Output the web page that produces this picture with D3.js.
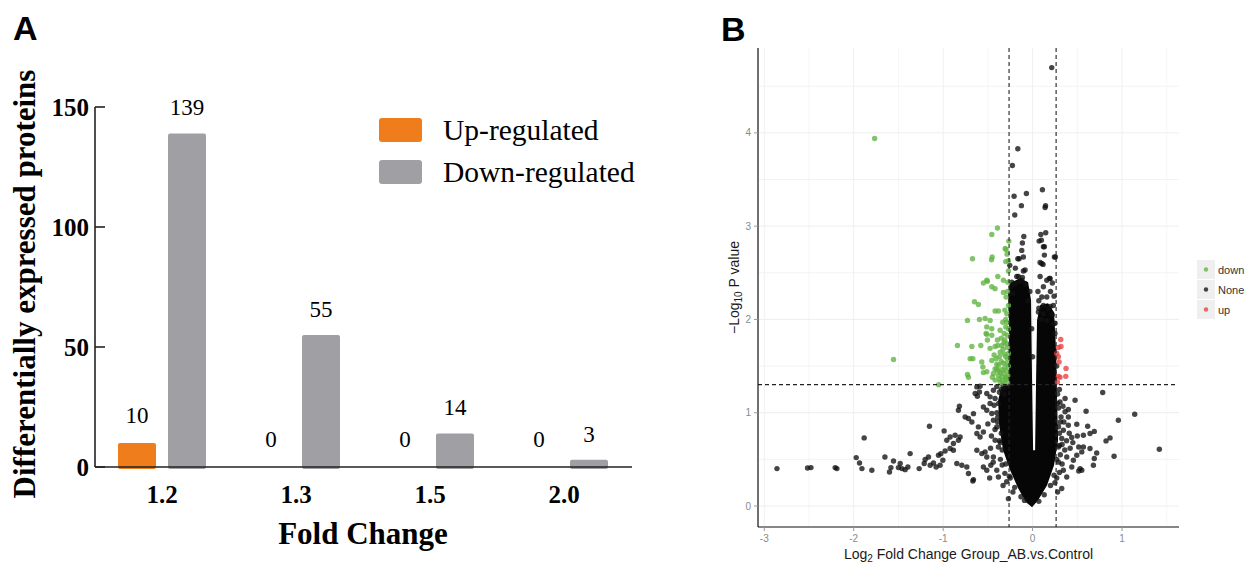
<!DOCTYPE html>
<html>
<head>
<meta charset="utf-8">
<script src="https://cdn.jsdelivr.net/npm/d3@7"></script>
<style>
  body { margin: 0; background: #fff; }
</style>
</head>
<body>
<div id="canvas"></div>
<script>
// ---- panel A data ----
let foldChanges = ["1.2", "1.3", "1.5", "2.0"]
let upCounts = [10, 0, 0, 0]
let downCounts = [139, 55, 14, 3]
let countTicks = [0, 50, 100, 150]
let barSeries = ["Up-regulated", "Down-regulated"]

// ---- panel B data: [log2 fold change, -log10 p] ----
let log2Ticks = [-3, -2, -1, 0, 1]
let pTicks = [0, 1, 2, 3, 4]
let fcCut = 0.263
let pCut = 1.301
let volcanoGroups = ["down", "None", "up"]

// outline of the solid mass of overlapping "None" points
let denseCore = [
  [-0.251, 2.39], [-0.14, 2.443], [-0.05, 2.4], [-0.017, 2.207], [-0.006, 1.349], [0.006, 0.598],
  [0.028, 0.598], [0.039, 1.349], [0.05, 1.992], [0.084, 2.153], [0.173, 2.175], [0.24, 2.078],
  [0.263, 1.67], [0.274, 1.134], [0.285, 0.705], [0.24, 0.437], [0.162, 0.222], [0.061, 0.061],
  [-0.006, -0.014], [-0.073, 0.04], [-0.162, 0.19], [-0.251, 0.383], [-0.33, 0.598], [-0.374, 0.866],
  [-0.385, 1.134], [-0.352, 1.263], [-0.263, 1.317], [-0.263, 1.993], [-0.274, 2.261]
]

let downPoints = [
  [-1.766, 3.94], [-0.393, 2.98], [-0.456, 2.91], [-0.266, 2.84], [-0.307, 2.76], [-0.296, 2.75],
  [-0.672, 2.65], [-0.452, 2.67], [-0.459, 2.64], [-0.27, 2.63], [-0.389, 2.46], [-0.512, 2.42],
  [-0.505, 2.41], [-0.55, 2.39], [-0.456, 2.35], [-0.419, 2.33], [-0.326, 2.42], [-0.277, 2.4],
  [-0.326, 2.29], [-0.296, 2.24], [-0.65, 2.19], [-0.606, 2.16], [-0.419, 2.09], [-0.382, 2.09],
  [-0.288, 2.06], [-0.728, 1.99], [-0.594, 2.0], [-0.531, 2.01], [-0.475, 1.99], [-0.333, 1.97],
  [-0.288, 1.97], [-0.512, 1.92], [-0.456, 1.9], [-0.512, 1.84], [-0.456, 1.83], [-0.52, 1.85],
  [-0.363, 1.885], [-0.318, 1.85], [-0.282, 1.83], [-0.505, 1.78], [-0.393, 1.78], [-0.84, 1.72],
  [-0.679, 1.71], [-0.579, 1.72], [-0.475, 1.69], [-0.419, 1.71], [-0.344, 1.72], [-0.288, 1.74],
  [-0.363, 1.65], [-0.318, 1.63], [-0.27, 1.635], [-1.555, 1.57], [-0.698, 1.58], [-0.668, 1.58],
  [-0.568, 1.545], [-0.456, 1.56], [-0.408, 1.58], [-0.382, 1.51], [-0.326, 1.53], [-0.288, 1.53],
  [-0.556, 1.49], [-0.512, 1.44], [-0.55, 1.43], [-0.728, 1.41], [-0.717, 1.38], [-0.438, 1.42],
  [-0.382, 1.4], [-0.326, 1.42], [-0.277, 1.4], [-0.419, 1.35], [-0.363, 1.33], [-0.307, 1.35],
  [-1.05, 1.3], [-0.4, 1.47], [-0.344, 1.46], [-0.28, 1.32], [-0.29, 1.45], [-0.27, 1.5],
  [-0.3, 1.6], [-0.28, 1.7], [-0.31, 1.78], [-0.27, 1.9], [-0.3, 1.92], [-0.27, 2.15],
  [-0.31, 2.1], [-0.35, 1.55], [-0.33, 1.68], [-0.3, 1.37], [-0.34, 1.38], [-0.36, 1.43],
  [-0.39, 1.45], [-0.28, 1.58], [-0.32, 1.75], [-0.35, 1.8], [-0.3, 2.0], [-0.28, 2.3],
  [-0.27, 2.52], [-0.3, 2.62], [-0.285, 2.7], [-0.43, 1.62], [-0.4, 1.52], [-0.37, 1.6],
  [-0.42, 1.47], [-0.45, 1.38], [-0.39, 1.72], [-0.37, 1.36], [-0.33, 1.32], [-0.31, 1.48],
  [-0.29, 1.38]
]

let upPoints = [
  [0.315, 1.785], [0.288, 1.7], [0.27, 1.635], [0.288, 1.6], [0.296, 1.545], [0.374, 1.475],
  [0.371, 1.39], [0.288, 1.39], [0.307, 1.38], [0.277, 1.33], [0.318, 1.71]
]

let nonePoints = [
  // upper part of the V
  [0.214, 4.7], [-0.165, 3.83], [-0.226, 3.65], [-0.207, 3.32], [-0.199, 3.12], [-0.069, 3.35],
  [0.11, 3.39], [-0.125, 3.22], [0.14, 3.2], [0.145, 3.22], [-0.098, 2.89], [-0.114, 2.82],
  [-0.121, 2.74], [0.073, 2.84], [0.098, 2.85], [0.147, 2.93], [0.092, 2.91], [0.132, 2.78],
  [0.132, 2.69], [0.255, 2.67], [-0.151, 2.65], [-0.103, 2.67], [0.084, 2.61], [0.117, 2.59],
  [-0.165, 2.65], [-0.255, 2.58], [-0.192, 2.55], [-0.103, 2.52], [-0.084, 2.53], [0.084, 2.46],
  [0.188, 2.44], [-0.159, 2.46], [-0.114, 2.45], [-0.177, 2.46], [-0.121, 2.42], [-0.232, 2.4],
  [0.121, 2.78], [0.103, 2.6], [0.244, 2.67], [0.159, 2.42], [0.196, 2.44], [0.121, 2.35],
  [0.221, 2.39], [0.103, 2.24], [0.159, 2.24], [0.232, 2.15], [0.196, 2.14], [0.065, 2.08],
  [0.121, 2.06], [0.251, 1.96], [0.159, 1.99], [0.06, 2.3], [0.2, 2.3], [0.24, 2.25], [0.07, 2.2],
  // ragged edges of the V
  [-0.24, 2.35], [-0.2, 2.38], [-0.16, 2.4], [-0.08, 2.38], [-0.03, 2.3], [-0.22, 2.28],
  [-0.05, 2.2], [-0.01, 1.9], [0.0, 1.6], [0.07, 2.12], [0.12, 2.15], [0.18, 2.12],
  [0.22, 2.05], [0.1, 2.0], [0.25, 1.85], [0.23, 1.95], [0.27, 1.5], [0.28, 1.1],
  [0.29, 0.85], [0.3, 0.65], [0.27, 0.5], [0.24, 0.33], [0.2, 0.22], [0.13, 0.12],
  [-0.38, 1.1], [-0.39, 0.9], [-0.37, 0.7], [-0.34, 0.6], [-0.3, 0.45], [-0.26, 0.32],
  [-0.2, 0.2], [-0.13, 0.1], [-0.35, 1.25], [-0.32, 1.2], [-0.09, 0.06], [0.07, 0.05],
  // right side
  [0.784, 1.217], [0.475, 1.134], [0.4, 1.034], [0.363, 1.01], [0.598, 1.016], [1.142, 0.984],
  [0.959, 0.919], [0.4, 0.955], [0.318, 0.955], [0.494, 0.877], [0.4, 0.866], [0.616, 0.855],
  [0.69, 0.8], [0.642, 0.777], [0.568, 0.759], [0.5, 0.751], [0.438, 0.734], [0.866, 0.73],
  [0.821, 0.698], [0.516, 0.633], [0.568, 0.633], [0.642, 0.616], [0.717, 0.569], [0.69, 0.509],
  [0.68, 0.437], [0.911, 0.533], [1.417, 0.608], [0.55, 0.58], [0.494, 0.544], [0.531, 0.401],
  [0.516, 0.376], [0.55, 0.383], [0.456, 0.49], [0.438, 0.418], [0.382, 0.526], [0.326, 0.187],
  [0.382, 0.311], [0.344, 0.383], [0.288, 0.633], [0.326, 0.723], [0.344, 0.812], [0.307, 1.116],
  [0.363, 1.152], [0.3, 1.25], [0.29, 1.05], [0.31, 0.9], [0.3, 0.78], [0.33, 0.66], [0.31, 0.55],
  [0.29, 0.47], [0.33, 0.45], [0.3, 0.36], [0.27, 0.3], [0.36, 0.6], [0.35, 0.9], [0.42, 0.62],
  [0.41, 0.78], [0.38, 0.7], [0.34, 1.07], [0.28, 1.2], [0.45, 0.68], [0.25, 0.25], [0.28, 0.15],
  // left side
  [-2.858, 0.401], [-2.516, 0.408], [-2.478, 0.412], [-2.207, 0.412], [-2.188, 0.401], [-1.972, 0.519],
  [-1.935, 0.461], [-1.908, 0.401], [-1.883, 0.73], [-1.797, 0.383], [-1.651, 0.526], [-1.555, 0.483],
  [-1.584, 0.412], [-1.6, 0.365], [-1.48, 0.455], [-1.461, 0.401], [-1.425, 0.39], [-1.394, 0.418],
  [-1.5, 0.412], [-1.369, 0.562], [-1.268, 0.401], [-1.212, 0.455], [-1.201, 0.498], [-1.164, 0.526],
  [-1.153, 0.855], [-1.145, 0.437], [-1.108, 0.461], [-1.078, 0.418], [-1.034, 0.437], [-1.003, 0.49],
  [-0.989, 0.805], [-1.052, 0.544], [-1.026, 0.56], [-0.978, 0.59], [-0.922, 0.616], [-0.885, 0.598],
  [-0.959, 0.705], [-0.922, 0.74], [-0.866, 0.759], [-0.885, 0.67], [-0.829, 0.705], [-0.81, 0.74],
  [-0.847, 0.455], [-0.791, 0.437], [-0.735, 0.418], [-0.717, 0.348], [-0.668, 0.268], [-0.818, 1.07],
  [-0.829, 1.027], [-0.754, 0.955], [-0.717, 0.938], [-0.679, 0.901], [-0.661, 0.99], [-0.642, 1.206],
  [-0.617, 1.177], [-0.594, 1.223], [-0.623, 1.277], [-0.587, 1.284], [-0.623, 0.777], [-0.587, 0.74],
  [-0.55, 0.794], [-0.606, 0.848], [-0.623, 0.598], [-0.568, 0.562], [-0.531, 0.58], [-0.512, 0.526],
  [-0.55, 0.418], [-0.512, 0.383], [-0.467, 0.437], [-0.55, 1.062], [-0.512, 1.027], [-0.475, 1.099],
  [-0.456, 0.991], [-0.512, 1.206], [-0.475, 1.17], [-0.438, 1.241], [-0.419, 1.152], [-0.438, 0.919],
  [-0.4, 0.848], [-0.419, 0.705], [-0.382, 0.633], [-0.438, 0.526], [-0.4, 0.383], [-0.382, 0.311],
  [-0.27, 0.079], [-0.661, 0.283], [-0.36, 0.5], [-0.34, 0.44], [-0.31, 0.35], [-0.29, 0.26],
  [-0.35, 0.78], [-0.4, 1.0], [-0.42, 0.82], [-0.37, 1.22], [-0.31, 1.27], [-0.46, 0.75],
  [-0.33, 0.22], [-0.39, 0.95], [-0.47, 0.62], [-0.44, 0.47], [-0.36, 0.68], [-0.43, 1.08],
  [-0.5, 0.88], [-0.33, 1.29], [-0.4, 1.28], [-0.48, 0.3], [-0.22, 0.15], [-0.25, 0.3]
]

let svg = {}
let colors = { up: "#ef7d1c", down: "#a0a0a4" }
let dotColors = { down: "#5fb33f", None: "#111111", up: "#e5403f" }

window.onload = function () { setup() }

function setup() {
  svg = d3.select("#canvas")
    .append("svg")
    .attr("width", 1249)
    .attr("height", 564)
    .style("font-family", "Liberation Sans, Arial, sans-serif")

  svg.append("rect").attr("width", 1249).attr("height", 564).attr("fill", "#fff")

  drawBarPanel()
  drawVolcanoPanel()
}

function drawBarPanel() {
  let g = svg.append("g").style("font-family", "Liberation Serif, Times New Roman, serif")

  let x = d3.scaleBand().domain(foldChanges).range([95, 631])
  let y = d3.scaleLinear().domain([0, 150]).range([467, 107])

  svg.append("text").attr("x", 13).attr("y", 40)
    .attr("font-size", 34).attr("font-weight", "bold").text("A")

  // bars
  let barW = 38
  let rows = foldChanges.map((f, i) => ({ f: f, up: upCounts[i], down: downCounts[i] }))

  g.selectAll("rect.up")
    .data(rows.filter(d => d.up > 0))
    .join("rect")
    .attr("x", d => x(d.f) + x.bandwidth() / 2 - 6 - barW)
    .attr("y", d => y(d.up))
    .attr("width", barW)
    .attr("height", d => y(0) - y(d.up) + 2)
    .attr("rx", 2)
    .attr("fill", colors.up)

  g.selectAll("rect.down")
    .data(rows)
    .join("rect")
    .attr("x", d => x(d.f) + x.bandwidth() / 2 + 6)
    .attr("y", d => y(d.down))
    .attr("width", barW)
    .attr("height", d => y(0) - y(d.down) + 2)
    .attr("rx", 2)
    .attr("fill", colors.down)

  // value labels
  rows.forEach(d => {
    g.append("text")
      .attr("x", x(d.f) + x.bandwidth() / 2 - 6 - barW / 2)
      .attr("y", y(d.up) - 20)
      .attr("text-anchor", "middle").attr("font-size", 23)
      .text(d.up)
    g.append("text")
      .attr("x", x(d.f) + x.bandwidth() / 2 + 6 + barW / 2)
      .attr("y", y(d.down) - 18)
      .attr("text-anchor", "middle").attr("font-size", 23)
      .text(d.down)
  })

  // axes
  g.append("line").attr("x1", 95).attr("x2", 632).attr("y1", y(0)).attr("y2", y(0))
    .attr("stroke", "#222").attr("stroke-width", 1.6)
  g.append("line").attr("x1", 95).attr("x2", 95).attr("y1", y(150)).attr("y2", y(0))
    .attr("stroke", "#222").attr("stroke-width", 1.6)

  g.selectAll("line.tick")
    .data(countTicks)
    .join("line")
    .attr("x1", 95).attr("x2", 105)
    .attr("y1", d => y(d)).attr("y2", d => y(d))
    .attr("stroke", "#222").attr("stroke-width", 1.6)

  g.selectAll("text.ytick")
    .data(countTicks)
    .join("text")
    .attr("x", 89).attr("y", d => y(d) + 9)
    .attr("text-anchor", "end").attr("font-size", 25).attr("font-weight", "bold")
    .text(d => d)

  g.selectAll("text.xtick")
    .data(foldChanges)
    .join("text")
    .attr("x", d => x(d) + x.bandwidth() / 2).attr("y", 503)
    .attr("text-anchor", "middle").attr("font-size", 25).attr("font-weight", "bold")
    .text(d => d)

  g.append("text").attr("x", 363).attr("y", 544)
    .attr("text-anchor", "middle").attr("font-size", 31).attr("font-weight", "bold")
    .text("Fold Change")

  g.append("text")
    .attr("transform", "translate(35,284) rotate(-90)")
    .attr("text-anchor", "middle").attr("font-size", 31).attr("font-weight", "bold")
    .text("Differentially expressed proteins")

  // legend
  let legend = g.selectAll("g.legend")
    .data(barSeries)
    .join("g")
    .attr("transform", (d, i) => "translate(379," + (118 + i * 42) + ")")
  legend.append("rect").attr("width", 43).attr("height", 24).attr("rx", 3)
    .attr("fill", (d, i) => i == 0 ? colors.up : colors.down)
  legend.append("text").attr("x", 64).attr("y", 22).attr("font-size", 29.5)
    .text(d => d)
}

function drawVolcanoPanel() {
  let g = svg.append("g")
  let left = 758, right = 1179, top = 48, bottom = 527

  let x = d3.scaleLinear().domain([-3.07, 1.637]).range([left, right])
  let y = d3.scaleLinear().domain([-0.225, 4.91]).range([bottom, top])

  svg.append("text").attr("x", 721).attr("y", 41)
    .attr("font-size", 34).attr("font-weight", "bold").text("B")

  // grid
  let minorX = d3.range(-2.5, 1.6, 1)
  let minorY = d3.range(0.5, 4.9, 1)
  g.selectAll("line.gmx").data(minorX).join("line")
    .attr("x1", d => x(d)).attr("x2", d => x(d)).attr("y1", top).attr("y2", bottom)
    .attr("stroke", "#f6f6f6")
  g.selectAll("line.gmy").data(minorY).join("line")
    .attr("x1", left).attr("x2", right).attr("y1", d => y(d)).attr("y2", d => y(d))
    .attr("stroke", "#f3f3f3")
  g.selectAll("line.gx").data(log2Ticks).join("line")
    .attr("x1", d => x(d)).attr("x2", d => x(d)).attr("y1", top).attr("y2", bottom)
    .attr("stroke", "#f0f0f0")
  g.selectAll("line.gy").data(pTicks).join("line")
    .attr("x1", left).attr("x2", right).attr("y1", d => y(d)).attr("y2", d => y(d))
    .attr("stroke", "#eeeeee")

  // dense mass of points
  g.append("path")
    .datum(denseCore)
    .attr("d", d3.line().x(d => x(d[0])).y(d => y(d[1])).curve(d3.curveLinearClosed))
    .attr("fill", "#060606")

  let drawDots = function (pts, color) {
    g.append("g").selectAll("circle")
      .data(pts)
      .join("circle")
      .attr("cx", d => x(d[0]))
      .attr("cy", d => y(d[1]))
      .attr("r", 2.7)
      .attr("fill", color)
      .attr("fill-opacity", 0.78)
  }
  drawDots(nonePoints, dotColors.None)
  drawDots(downPoints, dotColors.down)
  drawDots(upPoints, dotColors.up)

  // cut-off lines
  g.selectAll("line.vcut").data([-fcCut, fcCut]).join("line")
    .attr("x1", d => x(d)).attr("x2", d => x(d)).attr("y1", top).attr("y2", bottom)
    .attr("stroke", "#222").attr("stroke-width", 1.1).attr("stroke-dasharray", "4,3")
  g.append("line").attr("x1", left).attr("x2", right - 3).attr("y1", y(pCut)).attr("y2", y(pCut))
    .attr("stroke", "#222").attr("stroke-width", 1.1).attr("stroke-dasharray", "4,3")

  // axes
  g.append("line").attr("x1", left).attr("x2", left).attr("y1", top).attr("y2", bottom)
    .attr("stroke", "#111").attr("stroke-width", 1.2)
  g.append("line").attr("x1", left).attr("x2", right).attr("y1", bottom).attr("y2", bottom)
    .attr("stroke", "#111").attr("stroke-width", 1.2)

  g.selectAll("line.ty").data(pTicks).join("line")
    .attr("x1", left - 4).attr("x2", left).attr("y1", d => y(d)).attr("y2", d => y(d))
    .attr("stroke", "#999")
  g.selectAll("text.ty").data(pTicks).join("text")
    .attr("x", left - 7).attr("y", d => y(d) + 3.5)
    .attr("text-anchor", "end").attr("font-size", 10).attr("fill", "#8a8a8a")
    .text(d => d)
  g.selectAll("line.tx").data(log2Ticks).join("line")
    .attr("x1", d => x(d)).attr("x2", d => x(d)).attr("y1", bottom).attr("y2", bottom + 4)
    .attr("stroke", "#999")
  g.selectAll("text.tx").data(log2Ticks).join("text")
    .attr("x", d => x(d)).attr("y", bottom + 15)
    .attr("text-anchor", "middle").attr("font-size", 10).attr("fill", "#8a8a8a")
    .text(d => d)

  let xt = g.append("text").attr("x", (left + right) / 2).attr("y", 559)
    .attr("text-anchor", "middle").attr("font-size", 14).attr("fill", "#1a1a1a")
  xt.append("tspan").text("Log")
  xt.append("tspan").attr("font-size", 10).attr("dy", 3).text("2")
  xt.append("tspan").attr("dy", -3).text(" Fold Change Group_AB.vs.Control")

  let yt = g.append("text").attr("transform", "translate(739," + ((top + bottom) / 2) + ") rotate(-90)")
    .attr("text-anchor", "middle").attr("font-size", 14).attr("fill", "#1a1a1a")
  yt.append("tspan").text("\u2212Log")
  yt.append("tspan").attr("font-size", 10).attr("dy", 3).text("10")
  yt.append("tspan").attr("dy", -3).text(" P value")

  // legend
  let lg = g.selectAll("g.lg").data(volcanoGroups).join("g")
    .attr("transform", (d, i) => "translate(1197," + (260 + i * 20) + ")")
  lg.append("rect").attr("width", 18).attr("height", 19).attr("fill", "#efefef")
  lg.append("circle").attr("cx", 9).attr("cy", 9.5).attr("r", 2.2)
    .attr("fill", d => dotColors[d]).attr("fill-opacity", 0.78)
  lg.append("text").attr("x", 21).attr("y", 13.5).attr("font-size", 11).attr("fill", "#333")
    .text(d => d)
}
</script>
</body>
</html>
